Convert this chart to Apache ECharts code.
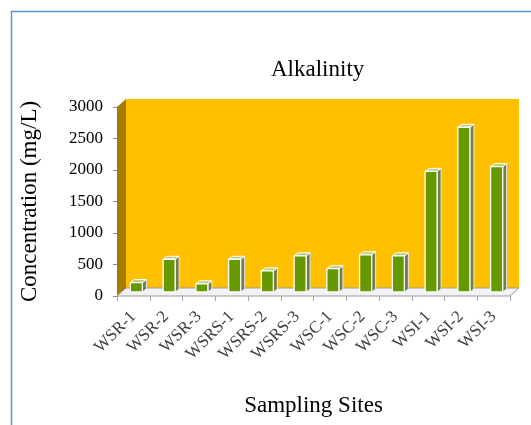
<!DOCTYPE html>
<html>
<head>
<meta charset="utf-8">
<script src="https://cdn.jsdelivr.net/npm/echarts@6/dist/echarts.min.js"></script>
<style>
html, body { margin: 0; padding: 0; background: #fff; }
#main { width: 531px; height: 425px; }
</style>
</head>
<body>
<div id="main"></div>
<script>
var sites = ['WSR-1', 'WSR-2', 'WSR-3', 'WSRS-1', 'WSRS-2', 'WSRS-3',
  'WSC-1', 'WSC-2', 'WSC-3', 'WSI-1', 'WSI-2', 'WSI-3'];
var alkalinity = [150, 520, 130, 520, 335, 575, 370, 590, 575, 1915, 2615, 1990];
var yMin = 0;
var yMax = 3000;
var yStep = 500;

var serif = 'Liberation Serif';
var depthX = 9, depthY = 8;

var chartDom = document.getElementById('main');
var myChart = echarts.init(chartDom);
var option;

// back wall, side wall and floor of the 3D box
function renderWalls(params, api) {
  var cs = params.coordSys;
  var L = cs.x, R = cs.x + cs.width, T = cs.y, B = cs.y + cs.height;
  return {
    type: 'group',
    children: [
      {
        type: 'rect',
        shape: { x: L + depthX, y: T - depthY, width: R - L, height: B - T },
        style: { fill: '#FFC000' }
      },
      {
        type: 'polygon',
        shape: { points: [[L, T], [L + depthX, T - depthY], [L + depthX, B - depthY], [L, B]] },
        style: { fill: '#A67C00' }
      },
      {
        type: 'polygon',
        shape: { points: [[L, B], [L + depthX, B - depthY], [R + depthX, B - depthY], [R, B]] },
        style: { fill: '#f2f2f2', stroke: '#9a9a9a', lineWidth: 1 }
      }
    ]
  };
}

function renderBar(params, api) {
  var top = api.coord([api.value(0), api.value(1)]);
  var base = api.coord([api.value(0), 0]);
  var w = 12, dx = 4, dy = 3, ox = 3, oy = -4;
  var x1 = top[0] - w / 2 + ox, x2 = x1 + w;
  var yt = top[1] + oy, yb = base[1] + oy;
  return {
    type: 'group',
    children: [
      {
        type: 'polygon',
        shape: { points: [[x2, yt], [x2 + dx, yt - dy], [x2 + dx, yb - dy], [x2, yb]] },
        style: { fill: '#6f7f4a', stroke: '#e8e8e8', lineWidth: 1 }
      },
      {
        type: 'polygon',
        shape: { points: [[x1, yt], [x2, yt], [x2 + dx, yt - dy], [x1 + dx, yt - dy]] },
        style: { fill: '#b5cf7d', stroke: '#ffffff', lineWidth: 1 }
      },
      {
        type: 'rect',
        shape: { x: x1, y: yt, width: w, height: yb - yt },
        style: { fill: '#669900', stroke: '#ffffff', lineWidth: 1.3 }
      }
    ]
  };
}

option = {
  backgroundColor: '#ffffff',
  animation: false,
  title: {
    text: 'Alkalinity',
    left: 266,
    top: 53,
    textStyle: { fontFamily: serif, fontSize: 23, fontWeight: 'normal', color: '#000' }
  },
  graphic: [
    {
      type: 'rect',
      left: 9,
      top: 9,
      shape: { width: 600, height: 600 },
      style: { fill: 'none', stroke: '#5b95d5', lineWidth: 1.5 }
    }
  ],
  grid: {
    left: 117,
    right: 21,
    top: 107,
    bottom: 129
  },
  xAxis: {
    type: 'category',
    data: sites,
    name: 'Sampling Sites',
    nameLocation: 'middle',
    nameGap: 98,
    nameTextStyle: { fontFamily: serif, fontSize: 23, color: '#000' },
    axisLine: { show: false },
    axisTick: { show: true, length: 5, lineStyle: { color: '#a6a6a6' } },
    axisLabel: {
      rotate: 45,
      margin: 18,
      interval: 0,
      fontFamily: serif,
      fontSize: 17,
      color: '#404040'
    },
    splitLine: { show: false }
  },
  yAxis: {
    type: 'value',
    min: yMin,
    max: yMax,
    interval: yStep,
    name: 'Concentration (mg/L)',
    nameLocation: 'middle',
    nameGap: 76,
    nameRotate: 90,
    nameTextStyle: { fontFamily: serif, fontSize: 23, color: '#000' },
    axisLine: { show: true, lineStyle: { color: '#8c8c8c' } },
    axisTick: { show: true, length: 4, lineStyle: { color: '#8c8c8c' } },
    axisLabel: {
      margin: 14,
      fontFamily: serif,
      fontSize: 17,
      color: '#000',
      formatter: function (v) { return String(v); }
    },
    splitLine: { show: false }
  },
  series: [
    {
      type: 'custom',
      name: 'walls',
      renderItem: renderWalls,
      data: [[0, 0]],
      z: 1,
      silent: true
    },
    {
      type: 'custom',
      name: 'Alkalinity',
      renderItem: renderBar,
      encode: { x: 0, y: 1 },
      data: alkalinity.map(function (v, i) { return [i, v]; }),
      z: 3
    }
  ]
};

option && myChart.setOption(option);
</script>
</body>
</html>
